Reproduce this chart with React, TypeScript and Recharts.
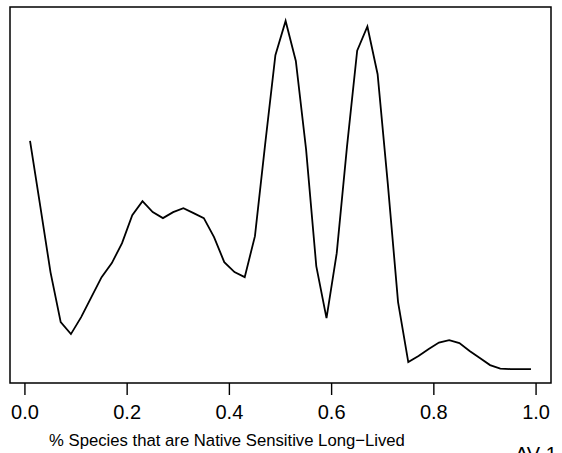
import { LineChart, Line, XAxis, YAxis, ReferenceArea } from 'recharts';

// density estimate, x grid 0.01..0.99 step 0.02
const xs = [
  0.01, 0.03, 0.05, 0.07, 0.09, 0.11, 0.13, 0.15, 0.17, 0.19,
  0.21, 0.23, 0.25, 0.27, 0.29, 0.31, 0.33, 0.35, 0.37, 0.39,
  0.41, 0.43, 0.45, 0.47, 0.49, 0.51, 0.53, 0.55, 0.57, 0.59,
  0.61, 0.63, 0.65, 0.67, 0.69, 0.71, 0.73, 0.75, 0.77, 0.79,
  0.81, 0.83, 0.85, 0.87, 0.89, 0.91, 0.93, 0.95, 0.97, 0.99,
];
const density = [
  2.283, 1.63, 0.97, 0.47, 0.35, 0.52, 0.72, 0.92, 1.06, 1.26,
  1.54, 1.68, 1.57, 1.51, 1.57, 1.61, 1.56, 1.51, 1.32, 1.07,
  0.97, 0.92, 1.33, 2.25, 3.14, 3.483, 3.083, 2.2, 1.03, 0.51,
  1.16, 2.22, 3.185, 3.427, 2.95, 1.85, 0.67, 0.07, 0.13, 0.2,
  0.265, 0.29, 0.26, 0.18, 0.11, 0.04, 0.005, 0, 0, 0,
];
const xTicks = [0, 0.2, 0.4, 0.6, 0.8, 1.0];
const xTitle = '% Species that are Native Sensitive Long\u2212Lived';
const footNote = 'AV-1';

const data = xs.map((x, i) => ({ x, y: density[i] }));

// R-style 4% axis extension
const xPad = (xs[xs.length - 1] - xs[0]) * 0.04;
const xMin = xs[0] - xPad;
const xMax = xs[xs.length - 1] + xPad;
const yLo = Math.min(...density);
const yHi = Math.max(...density);
const yPad = (yHi - yLo) * 0.04;
const yMin = yLo - yPad;
const yMax = yHi + yPad;

const font = '"Liberation Sans", Arial, Helvetica, sans-serif';

export default function App() {
  return (
    <div style={{ position: 'absolute', left: 0, top: 0, background: '#fff' }}>
      <LineChart
        width={562}
        height={453}
        data={data}
        margin={{ top: 7, right: 11, left: 10, bottom: 30 }}
        style={{ fontFamily: font }}
      >
        <XAxis
          dataKey="x"
          type="number"
          domain={[xMin, xMax]}
          ticks={xTicks}
          allowDataOverflow
          axisLine={false}
          tickSize={12}
          tickMargin={10}
          height={40}
          tick={{ fill: '#000', fontSize: 20 }}
          tickLine={{ stroke: '#000', strokeWidth: 1.4 }}
          tickFormatter={(v: number) => v.toFixed(1)}
        />
        <YAxis hide type="number" domain={[yMin, yMax]} allowDataOverflow />
        <ReferenceArea
          x1={xMin}
          x2={xMax}
          y1={yMin}
          y2={yMax}
          fill="none"
          fillOpacity={0}
          stroke="#000"
          strokeWidth={1.5}
          ifOverflow="visible"
        />
        <Line
          type="linear"
          dataKey="y"
          stroke="#000"
          strokeWidth={1.8}
          dot={false}
          isAnimationActive={false}
        />
        <text x={227} y={446} textAnchor="middle" fontSize={16.7} fill="#000" fontFamily={font}>
          {xTitle}
        </text>
        <text x={515} y={461} fontSize={20} fill="#000" fontFamily={font}>
          {footNote}
        </text>
      </LineChart>
    </div>
  );
}
